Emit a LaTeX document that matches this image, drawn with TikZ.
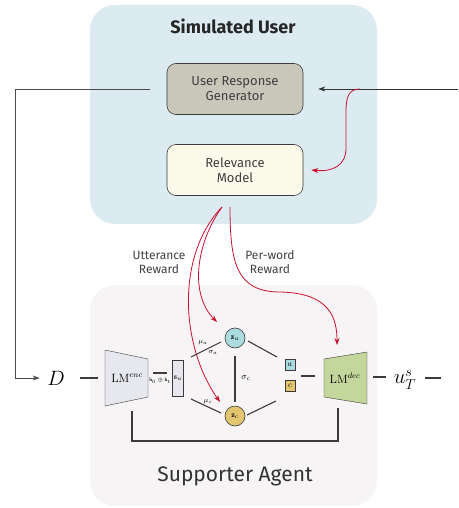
\documentclass[tikz,border=0pt]{standalone}
\usepackage{amsmath,amssymb}
\usepackage{fontspec}
\setsansfont{Fira Sans}
\usepackage{tikz}
\usetikzlibrary{positioning,arrows.meta}

\definecolor{simbg}{HTML}{DCEAF2}
\definecolor{supbg}{HTML}{F6F4F5}
\definecolor{gengray}{HTML}{C9C6BA}
\definecolor{relcream}{HTML}{FBF9E9}
\definecolor{encgray}{HTML}{E7E8EE}
\definecolor{decgreen}{HTML}{C3D69B}
\definecolor{zateal}{HTML}{AADBDE}
\definecolor{zcgold}{HTML}{E4C56F}
\definecolor{rewardred}{HTML}{C8102E}
\definecolor{wire}{HTML}{3C3A3A}

\begin{document}
\begin{tikzpicture}[x=1pt,y=-1pt,>={Stealth[length=7pt,width=5pt]},semithick]
  \tikzstyle{box}=[draw=wire,fill=white,rounded corners=9pt,minimum width=136pt,
                   minimum height=51pt,align=center,text=black!75,
                   font=\sffamily\fontsize{13}{15}\selectfont]
  \tikzstyle{latent}=[circle,draw=wire,minimum size=20pt,inner sep=0pt,
                      font=\fontsize{8}{8}\selectfont]
  \tikzstyle{tag}=[draw=wire,minimum width=10pt,minimum height=11pt,inner sep=0pt,
                   font=\fontsize{8}{8}\selectfont]
  \tikzstyle{wires}=[wire,line width=1.1pt]
  \tikzstyle{reward}=[rewardred,line width=0.8pt,->]
  \tikzstyle{caption}=[align=center,text=black!75,font=\sffamily\fontsize{12}{14}\selectfont]

  \useasboundingbox (0,0) rectangle (458,508);

  % backgrounds
  \fill[simbg,rounded corners=25pt] (90,5) rectangle (377,224);
  \fill[supbg,rounded corners=25pt] (90,285) rectangle (377,506);
  \node[font=\sffamily\bfseries\fontsize{18}{20}\selectfont,text=black!85] (simtitle) at (233,26) {Simulated User};
  \node[font=\sffamily\fontsize{21}{24}\selectfont,text=black!80] (suptitle) at (235,476) {Supporter Agent};

  % simulated user
  \node[box,fill=gengray]  (gen) at (235,89)  {User Response\\Generator};
  \node[box,fill=relcream] (rel) at (235,170) {Relevance\\Model};

  % supporter agent
  \node[font=\fontsize{22}{26}\selectfont] (D) at (56,378) {$D$};
  \fill[encgray] (105,350) -- (148,359) -- (148,397) -- (105,406) -- cycle;
  \draw[wire,thin] (105,350) -- (148,359) -- (148,397) -- (105,406) -- cycle;
  \node[font=\fontsize{12}{13}\selectfont] (enc) at (127,378) {$\mathrm{LM}^{enc}$};
  \node[draw=wire,thin,fill=encgray,minimum width=11pt,minimum height=36pt,inner sep=0pt,
        font=\fontsize{8}{8}\selectfont] (su) at (178,378) {$\mathbf{s}_u$};
  \node[latent,fill=zateal] (za) at (235,338) {$\mathbf{z}_a$};
  \node[latent,fill=zcgold] (zc) at (235,416) {$\mathbf{z}_c$};
  \node[tag,fill=zateal] (a) at (290,365) {$a$};
  \node[tag,fill=zcgold] (c) at (290,386) {$c$};
  \fill[decgreen] (324,359) -- (367,352) -- (367,404) -- (324,397) -- cycle;
  \draw[wire,thin] (324,359) -- (367,352) -- (367,404) -- (324,397) -- cycle;
  \node[font=\fontsize{12}{13}\selectfont] (dec) at (345,378) {$\mathrm{LM}^{dec}$};
  \node[font=\fontsize{22}{26}\selectfont] (u) at (405,380) {$u^s_T$};

  % free ends
  \coordinate (fbout)  at (150,89);
  \coordinate (fbturn) at (15,89);
  \coordinate (userin) at (458,89);
  \coordinate (split)  at (360,89);
  \coordinate (relout) at (222,207);
  \coordinate (wordout) at (230,207);
  \coordinate (encR) at (153,373);
  \coordinate (suL)  at (167,373);
  \coordinate (sua)  at (191,357);
  \coordinate (zaw)  at (221,342);
  \coordinate (suc)  at (191,399);
  \coordinate (zcw)  at (221,413);
  \coordinate (zae)  at (248,341);
  \coordinate (aw)   at (277,357);
  \coordinate (zce)  at (247,415);
  \coordinate (cw)   at (276,401);
  \coordinate (encB) at (132,411);
  \coordinate (decB) at (338,408);
  \coordinate (Dout)  at (80,378);
  \coordinate (encin) at (98,378);
  \coordinate (tagout) at (301,376);
  \coordinate (decin)  at (315,376);
  \coordinate (decout) at (373,377);
  \coordinate (uin)    at (386,377);
  \coordinate (uout)   at (425,378);
  \coordinate (outend) at (441,378);

  % feedback loop
  \draw[black!70,->] (fbout) -- (fbturn) |- ([xshift=-4pt]D.west);
  \draw[black!80,->] (userin) -- ([xshift=15pt]gen.east);
  \draw[reward] (split) .. controls (348,89) and (346,98) .. (346,112)
                -- (346,148) .. controls (346,166) and (332,172) .. ([xshift=8pt]rel.east);

  % rewards
  \draw[reward] (relout) .. controls (195,245) and (190,295) .. (217,322);
  \draw[reward] (relout) .. controls (176,255) and (180,345) .. (220,402);
  \draw[reward] (wordout) .. controls (230,262) and (236,292) .. (280,292)
                .. controls (330,293) and (337,318) .. (337,345);
  \node[caption] (uttlab)  at (159,262) {Utterance\\Reward};
  \node[caption] (wordlab) at (270,262) {Per-word\\Reward};

  % agent wiring
  \draw[wires] (Dout) -- (encin);
  \draw[wires] (encR) -- (suL);
  \node[font=\fontsize{5}{5}\selectfont] (hcat) at (160,381) {$\mathbf{h}_0\oplus\mathbf{h}_t$};
  \draw[wires] (sua) -- (zaw);
  \draw[wires] (suc) -- (zcw);
  \node[font=\fontsize{7}{7}\selectfont] (mua) at (203,343) {$\mu_a$};
  \node[font=\fontsize{7}{7}\selectfont] (siga) at (213,352) {$\sigma_a$};
  \node[font=\fontsize{7}{7}\selectfont] (muc) at (208,402) {$\mu_c$};
  \draw[wires,shorten <=8pt,shorten >=4pt] (za) -- (zc);
  \node[font=\fontsize{9}{9}\selectfont] (sigc) at (246,378) {$\sigma_c$};
  \draw[wires] (zae) -- (aw);
  \draw[wires] (zce) -- (cw);
  \draw[wires] (tagout) -- (decin);
  \draw[wires] (decout) -- (uin);
  \draw[wires] (uout) -- (outend);
  \draw[wires] (encB) -- ++(0,30) -| (decB);
\end{tikzpicture}
\end{document}
